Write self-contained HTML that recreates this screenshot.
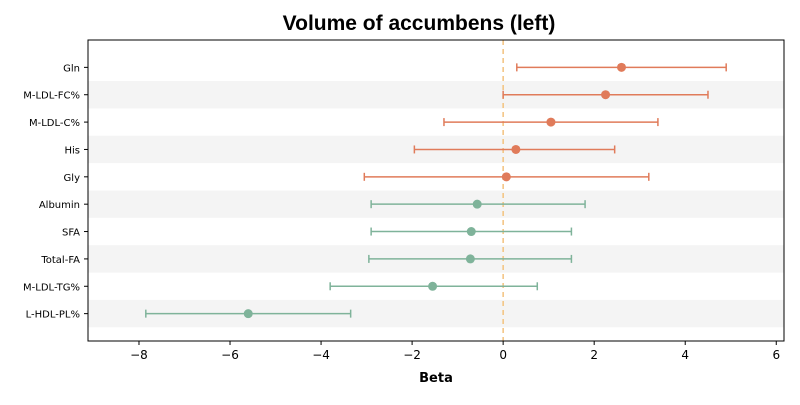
<!DOCTYPE html>
<html><head><meta charset="utf-8"><style>
body{margin:0;background:#fff;font-family:"Liberation Sans","DejaVu Sans",sans-serif}
</style></head><body>
<svg id="chart" width="800" height="400" xmlns="http://www.w3.org/2000/svg"></svg>
<script>
const categories=["Gln","M-LDL-FC%","M-LDL-C%","His","Gly","Albumin","SFA","Total-FA","M-LDL-TG%","L-HDL-PL%"];
const betas=[2.6,2.25,1.05,0.28,0.07,-0.57,-0.7,-0.72,-1.55,-5.6];
const lows=[0.3,0.0,-1.3,-1.95,-3.05,-2.9,-2.9,-2.95,-3.8,-7.85];
const highs=[4.9,4.5,3.4,2.45,3.2,1.8,1.5,1.5,0.75,-3.35];
const xTicks=[-8,-6,-4,-2,0,2,4,6];
const NS="http://www.w3.org/2000/svg";
const svg=document.getElementById('chart');
const L=88,R=784,T=40,B=341;
const xMin=-9.12,xMax=6.17;
const x=v=>L+(v-xMin)/(xMax-xMin)*(R-L);
const rowH=(B-T)/11;
const y=i=>T+rowH*(i+1);
const DV='"DejaVu Sans",sans-serif';
function mk(t,a){const e=document.createElementNS(NS,t);for(const k in a)e.setAttribute(k,a[k]);svg.appendChild(e);return e;}
let e;
e=mk('text',{x:419,y:30,'text-anchor':'middle','font-size':21,'font-weight':'bold',fill:'#000'});e.textContent='Volume of accumbens (left)';


categories.forEach((c,i)=>{
 if(i%2===1){e=mk('rect',{x:L,y:y(i)-rowH/2,width:R-L,height:rowH,fill:'#f4f4f4'});
 
 }
});
e=mk('line',{x1:x(0),x2:x(0),y1:T,y2:B,stroke:'#f3c27e','stroke-width':1.5,'stroke-dasharray':'5,4'});


categories.forEach((c,i)=>{
 const col=betas[i]>0?'#e07b5a':'#7fb39a';const yy=y(i);
 e=mk('line',{x1:x(lows[i]),x2:x(highs[i]),y1:yy,y2:yy,stroke:col,'stroke-width':1.5});
 
 
 [lows[i],highs[i]].forEach(v=>{e=mk('line',{x1:x(v),x2:x(v),y1:yy-4,y2:yy+4,stroke:col,'stroke-width':1.5});
 
 });
 e=mk('circle',{cx:x(betas[i]),cy:yy,r:4.5,fill:col});
 
 
 e=mk('text',{x:L-8,y:yy+4,'text-anchor':'end','font-size':10,'font-family':DV,fill:'#000'});e.textContent=c;
 
 
 e=mk('line',{x1:L-4,x2:L,y1:yy,y2:yy,stroke:'#000'});
 
 
});
e=mk('rect',{x:L,y:T,width:R-L,height:B-T,fill:'none',stroke:'#000','stroke-width':1});


xTicks.forEach(v=>{
 e=mk('line',{x1:x(v),x2:x(v),y1:B,y2:B+4,stroke:'#000'});
 
 
 e=mk('text',{x:x(v),y:B+18,'text-anchor':'middle','font-size':12,'font-family':DV,fill:'#000'});e.textContent=v<0?'\u2212'+(-v):String(v);
 
 
});
e=mk('text',{x:436,y:382,'text-anchor':'middle','font-size':13,'font-weight':'bold','font-family':DV,fill:'#000'});e.textContent='Beta';


</script>
</body></html>
